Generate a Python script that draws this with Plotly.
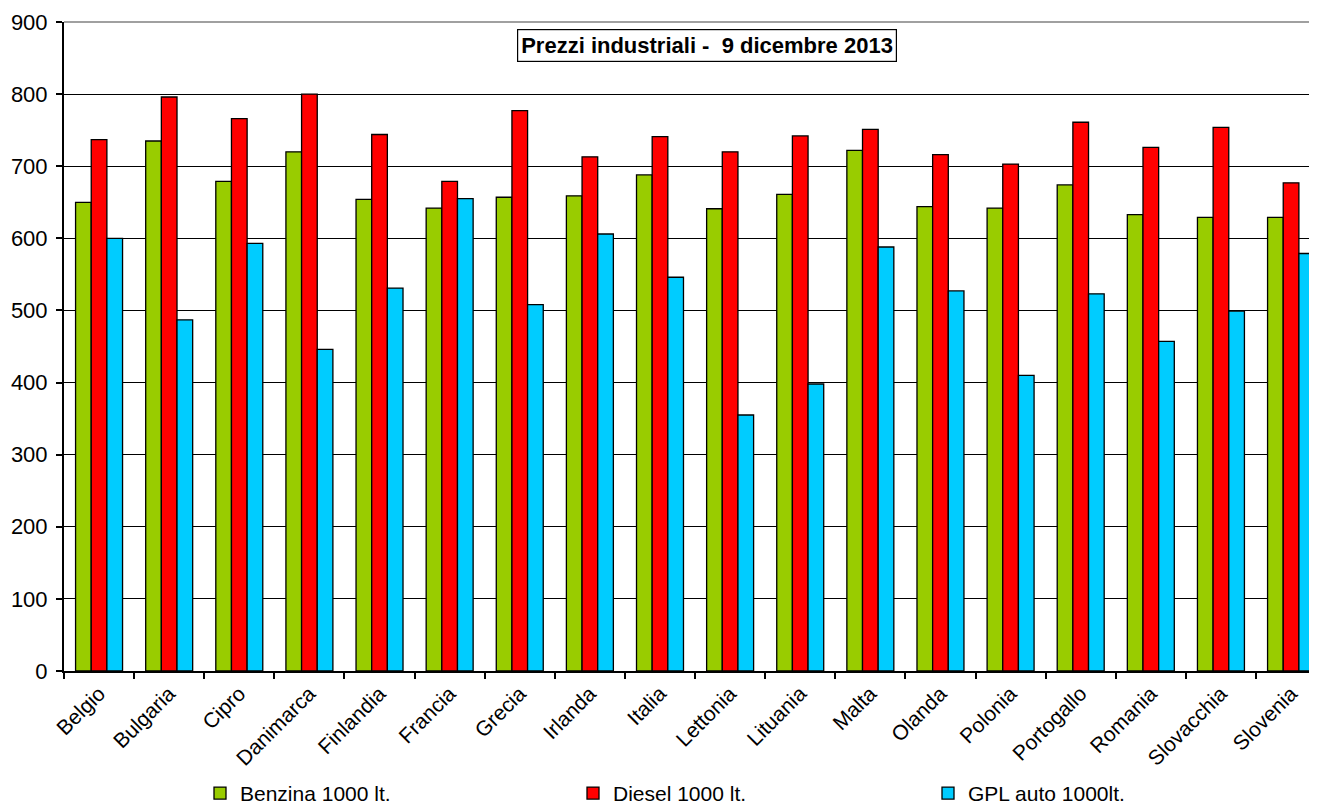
import plotly.graph_objects as go

categories = ["Belgio", "Bulgaria", "Cipro", "Danimarca", "Finlandia", "Francia",
              "Grecia", "Irlanda", "Italia", "Lettonia", "Lituania", "Malta",
              "Olanda", "Polonia", "Portogallo", "Romania", "Slovacchia", "Slovenia"]
benzina = [650, 735, 679, 720, 654, 642, 657, 659, 688, 641, 661, 722, 644, 642, 674, 633, 629, 629]
diesel = [737, 796, 766, 800, 744, 679, 777, 713, 741, 720, 742, 751, 716, 703, 761, 726, 754, 677]
gpl = [600, 487, 593, 446, 531, 655, 508, 606, 546, 355, 398, 588, 527, 410, 523, 457, 499, 579]

series_names = ["Benzina 1000 lt.", "Diesel 1000 lt.", "GPL auto 1000lt."]
series_colors = ["#99CC00", "#FF0000", "#00CCFF"]
y_ticks = [0, 100, 200, 300, 400, 500, 600, 700, 800, 900]
title_text = "Prezzi industriali -  9 dicembre 2013"

# the page body adds an 8px offset; work in page pixels and subtract it
OFF = 8
W, H = 1317 - OFF, 805 - OFF
plot_left, plot_right, plot_top, plot_bottom = 64 - OFF, 1317 - OFF, 22 - OFF, 671.5 - OFF
ml, mr, mt, mb = plot_left, W - plot_right, plot_top, H - plot_bottom
pw = W - ml - mr
ph = H - mt - mb

legend_ids = ["legend", "legend2", "legend3"]
legend_px = [200 - OFF, 573 - OFF, 928 - OFF]

fig = go.Figure()
for name, vals, col, lid in zip(series_names, [benzina, diesel, gpl], series_colors, legend_ids):
    fig.add_trace(go.Bar(x=categories, y=vals, name=name, legend=lid,
                         marker=dict(color=col, line=dict(color="black", width=1.3))))

legend_common = dict(orientation="h", xanchor="left", y=-(794 - OFF - plot_bottom) / ph,
                     yanchor="middle", font=dict(size=21), bgcolor="rgba(0,0,0,0)",
                     borderwidth=0)
layout_legends = {}
for lid, px in zip(legend_ids, legend_px):
    layout_legends[lid] = dict(legend_common, x=(px - ml) / pw)

fig.update_layout(
    width=W, height=H,
    margin=dict(l=ml, r=mr, t=mt, b=mb, autoexpand=False),
    paper_bgcolor="white", plot_bgcolor="white",
    barmode="group", bargap=0.33, bargroupgap=0,
    font=dict(family="Liberation Sans, Arial", color="black", size=21),
    showlegend=True,
    annotations=[dict(text="<b>" + title_text + "</b>", xref="paper", yref="paper",
                      x=(707 - OFF - ml) / pw, y=(plot_bottom - (45.5 - OFF)) / ph,
                      xanchor="center", yanchor="middle", showarrow=False,
                      font=dict(size=22, family="Liberation Sans, Arial"),
                      bordercolor="black", borderwidth=1.2, borderpad=3, bgcolor="white")],
    shapes=[dict(type="line", xref="paper", yref="paper", x0=0, x1=1, y0=1, y1=1,
                 line=dict(color="#808080", width=1.5), layer="above")],
    **layout_legends,
)
fig.update_xaxes(type="category", range=[-0.5, 17.37], tickson="boundaries",
                 ticks="outside", ticklen=6, tickcolor="black", tickwidth=1.5,
                 tickangle=-45, showline=True, linecolor="black", linewidth=2,
                 showgrid=False, tickfont=dict(size=21))
fig.update_yaxes(range=[0, 900], tickvals=y_ticks, ticks="outside", ticklen=6,
                 tickcolor="black", tickwidth=1.5, showline=True, linecolor="black",
                 linewidth=2, showgrid=True, gridcolor="black", gridwidth=1,
                 zeroline=False, tickfont=dict(size=22), ticklabelstandoff=4)
fig.write_html("out.html")
